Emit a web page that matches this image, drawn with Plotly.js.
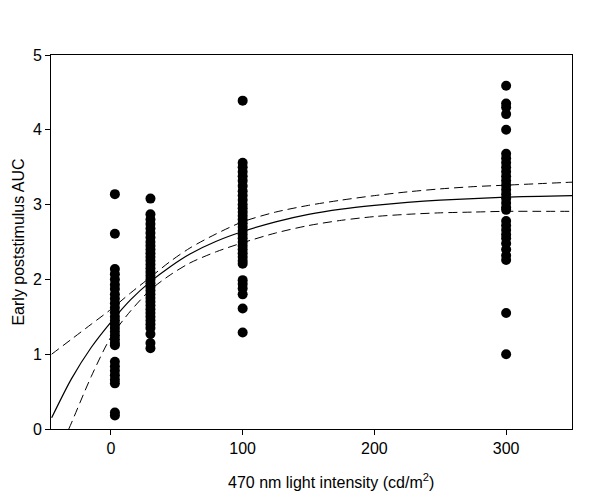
<!DOCTYPE html>
<html>
<head>
<meta charset="utf-8">
<script src="https://cdn.plot.ly/plotly-3.0.1.min.js"></script>
<style>html,body{margin:0;padding:0;background:#fff;}#chart{width:600px;height:495px;}</style>
</head>
<body>
<div id="chart"></div>
<script>
// Light intensities (cd/m^2) of the four groups
const intensities = [3, 30, 100, 300];

// Early poststimulus AUC values read per group
const auc3 = [3.14, 2.61, 2.14, 2.07, 2.00, 1.93, 1.87, 1.80, 1.74, 1.68, 1.62, 1.56, 1.50, 1.45, 1.40, 1.35, 1.30, 1.25, 1.20, 1.15, 1.12, 0.90, 0.84, 0.78, 0.72, 0.66, 0.61, 0.22, 0.18];
const auc30 = [3.08, 2.87, 2.80, 2.74, 2.68, 2.62, 2.56, 2.50, 2.45, 2.40, 2.35, 2.30, 2.25, 2.20, 2.15, 2.10, 2.05, 2.00, 1.95, 1.90, 1.85, 1.80, 1.75, 1.70, 1.65, 1.60, 1.55, 1.50, 1.45, 1.40, 1.35, 1.27, 1.15, 1.08];
const auc100 = [4.39, 3.56, 3.50, 3.44, 3.38, 3.32, 3.25, 3.18, 3.12, 3.06, 3.00, 2.95, 2.90, 2.85, 2.80, 2.75, 2.70, 2.65, 2.60, 2.55, 2.50, 2.45, 2.40, 2.35, 2.30, 2.25, 2.21, 1.99, 1.94, 1.88, 1.80, 1.61, 1.29];
const auc300 = [4.59, 4.35, 4.30, 4.21, 4.00, 3.68, 3.62, 3.56, 3.50, 3.44, 3.38, 3.32, 3.26, 3.20, 3.14, 3.08, 3.02, 2.96, 2.93, 2.78, 2.72, 2.66, 2.60, 2.55, 2.48, 2.40, 2.32, 2.26, 1.55, 1.00];

// Fitted curve and 95% confidence band
const fitX = [-45, -30, -15, 0, 15, 30, 45, 60, 80, 100, 125, 150, 175, 200, 225, 250, 275, 300, 325, 350];
const fitY = [0.15, 0.67, 1.09, 1.43, 1.73, 1.97, 2.17, 2.34, 2.51, 2.64, 2.77, 2.87, 2.94, 2.99, 3.03, 3.06, 3.08, 3.10, 3.11, 3.12];
const upperX = [-45, -30, -15, 0, 15, 30, 45, 60, 80, 100, 125, 150, 175, 200, 225, 250, 275, 300, 325, 350];
const upperY = [1.00, 1.20, 1.40, 1.60, 1.82, 2.03, 2.24, 2.42, 2.61, 2.77, 2.90, 2.99, 3.06, 3.12, 3.17, 3.21, 3.24, 3.26, 3.28, 3.30];
const lowerX = [-32, -30, -15, 0, 15, 30, 45, 60, 80, 100, 125, 150, 175, 200, 225, 250, 275, 300, 325, 350];
const lowerY = [0.00, 0.08, 0.70, 1.23, 1.58, 1.86, 2.06, 2.22, 2.37, 2.49, 2.62, 2.72, 2.79, 2.84, 2.87, 2.89, 2.90, 2.91, 2.91, 2.91];

const xTicks = [0, 100, 200, 300];
const yTicks = [0, 1, 2, 3, 4, 5];

const groups = [auc3, auc30, auc100, auc300];
const ptsX = [], ptsY = [];
groups.forEach((g, i) => g.forEach(v => { ptsX.push(intensities[i]); ptsY.push(v); }));

const traces = [
  {x: ptsX, y: ptsY, type: 'scatter', mode: 'markers',
   marker: {color: '#000', size: 10, line: {width: 0}}},
  {x: fitX, y: fitY, type: 'scatter', mode: 'lines',
   line: {color: '#000', width: 1.2, shape: 'spline', smoothing: 0.8}},
  {x: upperX, y: upperY, type: 'scatter', mode: 'lines',
   line: {color: '#000', width: 1, dash: '9px,5px', shape: 'spline', smoothing: 0.8}},
  {x: lowerX, y: lowerY, type: 'scatter', mode: 'lines',
   line: {color: '#000', width: 1, dash: '9px,5px', shape: 'spline', smoothing: 0.8}}
];

const font = {family: 'Liberation Sans, Arial, sans-serif', size: 16, color: '#000'};

const layout = {
  width: 600, height: 495,
  margin: {l: 51, r: 28, t: 55, b: 66},
  paper_bgcolor: '#fff', plot_bgcolor: '#fff',
  showlegend: false,
  font: font,
  xaxis: {
    range: [-45.5, 350], tickvals: xTicks, ticktext: xTicks.map(String),
    showgrid: false, zeroline: false, showline: true, linecolor: '#000', linewidth: 1,
    mirror: true, ticks: 'outside', ticklen: 5, tickcolor: '#000', tickwidth: 1,
    tickfont: font
  },
  yaxis: {
    range: [0, 5], tickvals: yTicks, ticktext: yTicks.map(String),
    showgrid: false, zeroline: false, showline: true, linecolor: '#000', linewidth: 1,
    mirror: true, ticks: 'outside', ticklen: 5, tickcolor: '#000', tickwidth: 1,
    tickfont: font, title: {text: 'Early poststimulus AUC', font: font, standoff: 4}
  },
  annotations: [{
    text: '470 nm light intensity (cd/m<sup>2</sup>)', xref: 'paper', yref: 'paper',
    x: 0.537, y: -0.139, xanchor: 'center', yanchor: 'middle', showarrow: false, font: font
  }]
};

Plotly.newPlot('chart', traces, layout, {displayModeBar: false, staticPlot: true});
</script>
</body>
</html>
